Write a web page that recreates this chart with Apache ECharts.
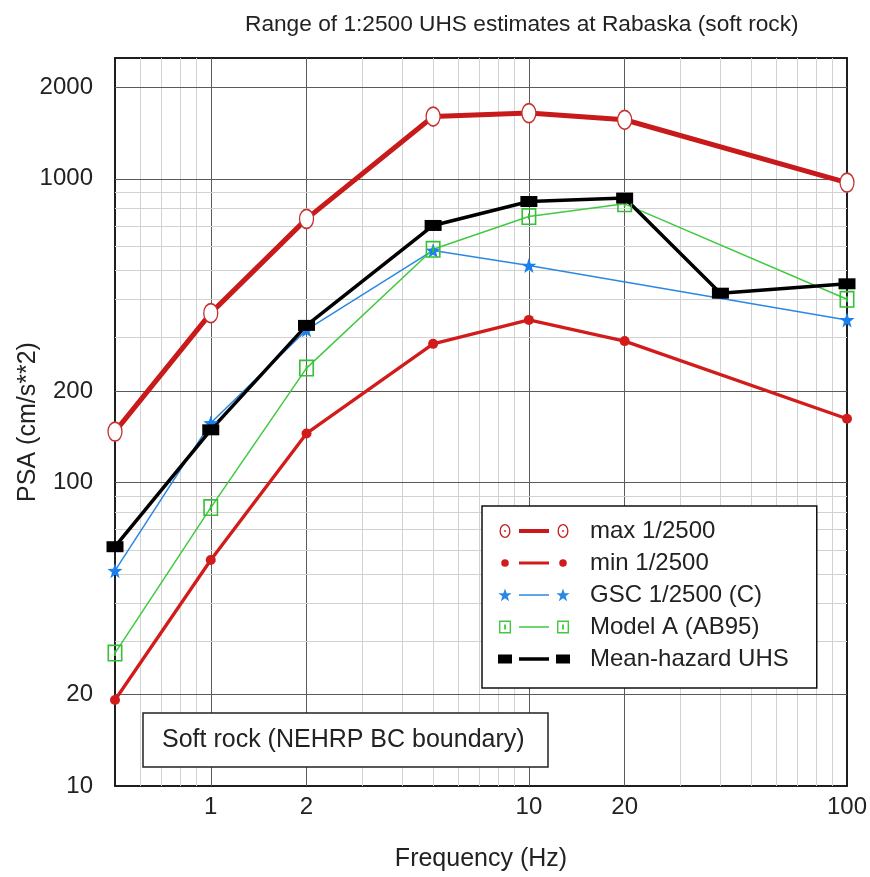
<!DOCTYPE html>
<html><head><meta charset="utf-8">
<script src="https://cdn.jsdelivr.net/npm/echarts@6/dist/echarts.min.js"></script>
<style>html,body{margin:0;padding:0;background:#fff}#c{width:870px;height:877px}</style>
</head><body><div id="c"></div>
<script>
// ---- data ----
const freq = [0.5, 1, 2, 5, 10, 20, 100];
const maxUHS = [147, 361, 738, 1604, 1646, 1565, 972];
const minUHS = [19.2, 55.5, 145, 286, 343, 292, 162];
const gscFreq = [0.5, 1, 2, 5, 10, 100];
const gscUHS = [51.2, 157, 318, 581, 518, 343];
const modelA = [27.4, 82.6, 238, 586, 751, 827, 401];
const meanFreq = [0.5, 1, 2, 5, 10, 20, 40, 100];
const meanUHS = [61.4, 149, 329, 702, 842, 864, 420, 451];
const xLabelTicks = [1, 2, 10, 20, 100];
const yLabelTicks = [10, 20, 100, 200, 1000, 2000];
const xGridVals = [0.6, 0.7, 0.8, 0.9, 1, 2, 3, 4, 5, 6, 7, 8, 9, 10, 20, 30, 40, 50, 60, 70, 80, 90];
const yGridVals = [20, 30, 40, 50, 60, 70, 80, 90, 100, 200, 300, 400, 500, 600, 700, 800, 900, 1000, 2000];
const seriesNames = ['max 1/2500', 'min 1/2500', 'GSC 1/2500 (C)', 'Model A (AB95)', 'Mean-hazard UHS'];

// ---- styling helpers ----
const FONT = '"Liberation Sans", Arial, sans-serif';
const C_MAX = '#c81a1a', C_MIN = '#d21c1c', C_GSC = '#2a88e2', C_MOD = '#3fca3f', C_MEAN = '#000000';
const DARK = '#5a5a5a', LIGHT = '#d2d2d2';

function ell(cx, cy, rx, ry, s) {
  return `M${cx - rx},${cy} A${rx},${ry} 0 1,${s} ${cx + rx},${cy} A${rx},${ry} 0 1,${s} ${cx - rx},${cy} Z `;
}
function rectP(x0, y0, x1, y1, ccw) {
  return ccw ? `M${x0},${y0} L${x0},${y1} L${x1},${y1} L${x1},${y0} Z `
             : `M${x0},${y0} L${x1},${y0} L${x1},${y1} L${x0},${y1} Z `;
}
function starP(cx, cy, R, r) {
  let s = '';
  for (let i = 0; i < 10; i++) {
    const a = -Math.PI / 2 + i * Math.PI / 5;
    const rad = i % 2 ? r : R;
    s += (i ? 'L' : 'M') + (cx + rad * Math.cos(a)).toFixed(3) + ',' + (cy + rad * Math.sin(a)).toFixed(3) + ' ';
  }
  return s + 'Z ';
}
const IW = 87, IH = 20;
const anchors = `M0,0 L0.01,0 L0,0.01 Z M${IW},${IH} L${IW - 0.01},${IH} L${IW},${IH - 0.01} Z`;
function bar(t) { return rectP(21, 10 - t / 2, 51, 10 + t / 2); }
const L = 7, R = 65;
const iconMax = 'path://' + ell(L, 10, 5.5, 7, 1) + ell(L, 10, 4.2, 5.7, 0) + ell(L, 10, 0.9, 0.9, 1) +
  bar(4) + ell(R, 10, 5.5, 7, 1) + ell(R, 10, 4.2, 5.7, 0) + ell(R, 10, 0.9, 0.9, 1) + anchors;
const iconMin = 'path://' + ell(L, 10, 3.8, 3.8, 1) + bar(3) + ell(R, 10, 3.8, 3.8, 1) + anchors;
const iconGsc = 'path://' + starP(L, 10.5, 7, 2.8) + bar(1.5) + starP(R, 10.5, 7, 2.8) + anchors;
const sq = (cx) => rectP(cx - 6, 3.5, cx + 6, 16.5) + rectP(cx - 4.6, 4.9, cx + 4.6, 15.1, true) + rectP(cx - 0.9, 7.5, cx + 0.9, 12.5);
const iconMod = 'path://' + sq(L) + bar(1.5) + sq(R) + anchors;
const iconMean = 'path://' + rectP(0, 5.5, 14, 14.5) + bar(3.5) + rectP(58, 5.5, 72, 14.5) + anchors;

const symStar = 'path://' + starP(0, 0, 10, 4);
const symSquare = 'path://' + rectP(0, 0, 15, 17) + rectP(1.6, 1.6, 13.4, 15.4, true) + rectP(6.6, 5.5, 8.4, 11.5);

const pairs = (xs, ys) => xs.map((x, i) => [x, ys[i]]);

const gridLines = [];
xGridVals.forEach(v => gridLines.push({ xAxis: v, lineStyle: { color: xLabelTicks.includes(v) ? DARK : LIGHT } }));
yGridVals.forEach(v => gridLines.push({ yAxis: v, lineStyle: { color: yLabelTicks.includes(v) ? DARK : LIGHT } }));

const tickStyle = { show: true, inside: true, length: 8, lineStyle: { color: '#222', width: 1 } };
const axisLineStyle = { show: true, lineStyle: { color: '#111', width: 1.5 } };
const labelStyle = { fontFamily: FONT, fontSize: 24, color: '#222', formatter: v => String(+v.toPrecision(6)) };

const chart = echarts.init(document.getElementById('c'), null, { renderer: 'canvas' });
chart.setOption({
  animation: false,
  backgroundColor: '#fff',
  textStyle: { fontFamily: FONT },
  title: [
    { text: 'Range of 1:2500 UHS estimates at Rabaska (soft rock)', left: 240, top: 8,
      textStyle: { fontFamily: FONT, fontSize: 22.7, fontWeight: 'normal', color: '#222' } },
    { text: 'Soft rock (NEHRP BC boundary)', left: 143, top: 713, z: 10,
      padding: [12, 24, 12, 19], borderColor: '#222', borderWidth: 1.5, backgroundColor: '#fff',
      textStyle: { fontFamily: FONT, fontSize: 25, fontWeight: 'normal', color: '#222', lineHeight: 30 } }
  ],
  grid: { left: 115, right: 23, top: 58, bottom: 91, containLabel: false, outerBoundsMode: 'none',
    show: true, borderColor: '#111', borderWidth: 1.5, backgroundColor: 'transparent' },
  legend: {
    orient: 'vertical', left: 482, top: 506, z: 10,
    padding: [12, 28, 16, 16], itemGap: 6, itemWidth: IW, itemHeight: IH,
    borderColor: '#111', borderWidth: 1.5, backgroundColor: '#fff',
    textStyle: { fontFamily: FONT, fontSize: 24, color: '#222', lineHeight: 26 },
    data: [
      { name: seriesNames[0], icon: iconMax, itemStyle: { color: C_MAX, borderWidth: 0 } },
      { name: seriesNames[1], icon: iconMin, itemStyle: { color: C_MIN, borderWidth: 0 } },
      { name: seriesNames[2], icon: iconGsc, itemStyle: { color: C_GSC, borderWidth: 0 } },
      { name: seriesNames[3], icon: iconMod, itemStyle: { color: C_MOD, borderWidth: 0 } },
      { name: seriesNames[4], icon: iconMean, itemStyle: { color: C_MEAN, borderWidth: 0 } }
    ]
  },
  xAxis: [
    { type: 'log', logBase: 10, min: 0.5, max: 100, position: 'bottom',
      name: 'Frequency (Hz)', nameLocation: 'middle', nameGap: 61, nameMoveOverlap: false,
      nameTextStyle: { fontFamily: FONT, fontSize: 25, color: '#222' },
      axisLine: axisLineStyle,
      axisTick: Object.assign({ customValues: xGridVals }, tickStyle),
      axisLabel: Object.assign({ customValues: xLabelTicks, margin: 9 }, labelStyle),
      splitLine: { show: false }, minorSplitLine: { show: false } },
    { type: 'log', logBase: 10, min: 0.5, max: 100, position: 'top',
      axisLine: axisLineStyle,
      axisTick: Object.assign({ customValues: xGridVals }, tickStyle),
      axisLabel: { show: false }, splitLine: { show: false } }
  ],
  yAxis: [
    { type: 'log', logBase: 10, min: 10, max: 2500, position: 'left',
      name: 'PSA (cm/s**2)', nameLocation: 'middle', nameGap: 74, nameMoveOverlap: false,
      nameTextStyle: { fontFamily: FONT, fontSize: 25, color: '#222' },
      axisLine: axisLineStyle,
      axisTick: Object.assign({ customValues: yGridVals }, tickStyle),
      axisLabel: Object.assign({ customValues: yLabelTicks, margin: 22 }, labelStyle),
      splitLine: { show: false }, minorSplitLine: { show: false } },
    { type: 'log', logBase: 10, min: 10, max: 2500, position: 'right',
      axisLine: axisLineStyle,
      axisTick: Object.assign({ customValues: yGridVals }, tickStyle),
      axisLabel: { show: false }, splitLine: { show: false } }
  ],
  series: [
    { type: 'line', name: '_grid', data: [], z: 1, silent: true,
      markLine: { z: 1, silent: true, symbol: ['none', 'none'], animation: false, label: { show: false },
        lineStyle: { type: 'solid', width: 1 }, data: gridLines } },
    { type: 'line', name: seriesNames[0], data: pairs(freq, maxUHS), z: 3,
      lineStyle: { color: C_MAX, width: 5 }, symbol: 'circle', symbolSize: [14, 19], showAllSymbol: true,
      itemStyle: { color: '#fff', borderColor: '#c83030', borderWidth: 1.5 } },
    { type: 'line', name: seriesNames[1], data: pairs(freq, minUHS), z: 3,
      lineStyle: { color: C_MIN, width: 3.3 }, symbol: 'circle', symbolSize: 10,
      itemStyle: { color: C_MIN, borderWidth: 0 } },
    { type: 'line', name: seriesNames[2], data: pairs(gscFreq, gscUHS), z: 3,
      lineStyle: { color: C_GSC, width: 1.5 }, symbol: symStar, symbolSize: [15, 15],
      itemStyle: { color: '#1a80f0', borderWidth: 0 } },
    { type: 'line', name: seriesNames[3], data: pairs(freq, modelA), z: 3,
      lineStyle: { color: C_MOD, width: 1.5 }, symbol: symSquare, symbolSize: [15, 17],
      itemStyle: { color: '#35c035', borderWidth: 0 } },
    { type: 'line', name: seriesNames[4], data: pairs(meanFreq, meanUHS), z: 3,
      lineStyle: { color: C_MEAN, width: 3.5 }, symbol: 'rect', symbolSize: [17, 11],
      itemStyle: { color: C_MEAN, borderWidth: 0 } }
  ]
});
</script>
</body></html>
